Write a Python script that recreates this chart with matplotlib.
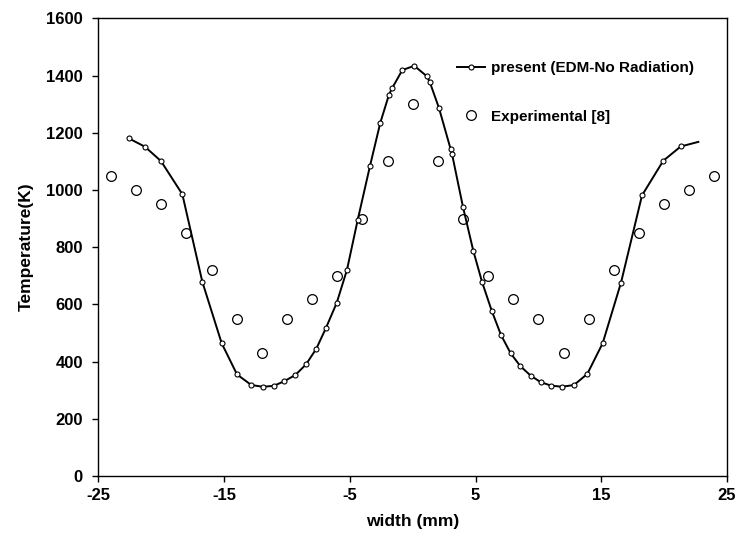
import matplotlib
matplotlib.use("Agg")
import matplotlib.pyplot as plt

# Computed temperature profile (EDM, no radiation)
width_model = [-22.57, -21.30, -20.03, -18.33, -16.74, -15.20, -13.98, -12.84,
               -11.94, -11.06, -10.24, -9.34, -8.49, -7.67, -6.90, -6.05,
               -5.23, -4.38, -3.40, -2.58, -1.89, -1.65, -0.83, 0.12,
               1.11, 1.35, 2.09, 3.02, 3.12, 4.00, 4.82, 5.51,
               6.28, 7.02, 7.79, 8.56, 9.38, 10.18, 11.00, 11.87,
               12.83, 13.89, 15.11, 16.57, 18.24, 19.93, 21.32, 22.72]
temp_model = [1180, 1151, 1101, 985, 679, 464, 355, 318,
              312, 315, 331, 353, 390, 445, 518, 605,
              721, 895, 1084, 1235, 1333, 1355, 1419, 1434,
              1398, 1378, 1286, 1142, 1127, 940, 787, 679,
              578, 493, 429, 384, 351, 328, 316, 312,
              318, 357, 464, 676, 981, 1102, 1152, 1168]

# Measured temperatures
width_exp = [-24, -22, -20, -18, -16, -14, -12, -10, -8, -6, -4, -2, 0,
             2, 4, 6, 8, 10, 12, 14, 16, 18, 20, 22, 24]
temp_exp = [1050, 1000, 950, 850, 720, 550, 430, 550, 620, 700, 900, 1100, 1300,
            1100, 900, 700, 620, 550, 430, 550, 720, 850, 950, 1000, 1050]

x_ticks = [-25, -15, -5, 5, 15, 25]
y_ticks = [0, 200, 400, 600, 800, 1000, 1200, 1400, 1600]

plt.rcParams['font.family'] = ['Liberation Sans', 'DejaVu Sans']
plt.rcParams['font.weight'] = 'bold'

fig = plt.figure(figsize=(7.40, 5.39), dpi=100)
ax = fig.add_axes([0.1331, 0.1169, 0.8493, 0.8491])

ax.plot(width_model, temp_model, color='black', lw=1.4,
        marker='o', markersize=3.6, markerfacecolor='white',
        markeredgecolor='black', markeredgewidth=0.8,
        markevery=list(range(len(width_model) - 1)),
        label='present (EDM-No Radiation)', zorder=3)
ax.plot(width_exp, temp_exp, linestyle='none', marker='o', markersize=7.0,
        markerfacecolor='white', markeredgecolor='black', markeredgewidth=0.9,
        label='Experimental [8]', zorder=2)

ax.set_xlim(-25, 25)
ax.set_ylim(0, 1600)
ax.set_xticks(x_ticks)
ax.set_yticks(y_ticks)
ax.set_xticklabels([str(v) for v in x_ticks])
ax.set_yticklabels([str(v) for v in y_ticks])
ax.tick_params(direction='out', length=4.3, width=1.0, labelsize=12,
               top=False, right=False)
ax.tick_params(axis='x', pad=4)
ax.tick_params(axis='y', pad=7)
for lbl in ax.get_xticklabels() + ax.get_yticklabels():
    lbl.set_fontweight('bold')
for sp in ax.spines.values():
    sp.set_linewidth(1.0)

ax.set_xlabel('width (mm)', fontsize=12.5, fontweight='bold', labelpad=8)
ax.set_ylabel('Temperature(K)', fontsize=12.5, fontweight='bold', labelpad=9)

leg = ax.legend(loc='upper left', bbox_to_anchor=(0.561, 0.92), frameon=False,
                fontsize=11, labelspacing=2.26, handlelength=1.8,
                handletextpad=0.4, borderaxespad=0)
for t in leg.get_texts():
    t.set_fontweight('bold')

fig.savefig('out.png', dpi=100)
